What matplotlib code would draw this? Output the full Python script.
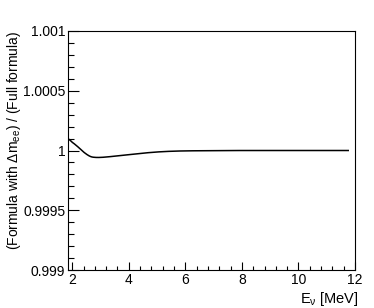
import numpy as np
import matplotlib
matplotlib.use("Agg")
import matplotlib.pyplot as plt
from matplotlib.ticker import MultipleLocator, FixedFormatter, FixedLocator

plt.rcParams['font.family'] = ['Liberation Sans', 'DejaVu Sans']
plt.rcParams['mathtext.fontset'] = 'custom'
plt.rcParams['mathtext.rm'] = 'Liberation Sans'
plt.rcParams['mathtext.it'] = 'Liberation Sans'

# ratio
energy = [1.85, 1.95, 2.05, 2.2, 2.35, 2.5, 2.7, 2.9, 3.2, 3.6, 4.0, 4.5, 5.0, 5.5, 6.0, 7.0, 8.0, 9.0, 10.0, 11.0, 11.76]
ratio = [1.000100, 1.000080, 1.000060, 1.000030, 1.000005, 0.999955, 0.999942, 0.999940, 0.999945, 0.999955,
         0.999965, 0.999978, 0.999988, 0.999994, 0.999997, 0.999999, 1.0, 1.0, 1.0, 1.0, 1.0]

yticks = [0.999, 0.9995, 1.0, 1.0005, 1.001]
ytick_labels = ["0.999", "0.9995", "1", "1.0005", "1.001"]
xticks = [2, 4, 6, 8, 10, 12]

fig = plt.figure(figsize=(3.74, 3.08), dpi=100)
ax = fig.add_axes([68 / 374, 1 - 270 / 308, (355 - 68) / 374, (270 - 31) / 308])

# smooth a bit through the read points
xs = np.linspace(energy[0], energy[-1], 400)
ys = np.interp(xs, energy, ratio)
k = 9
ys_s = np.convolve(np.pad(ys, k, mode='edge'), np.ones(2 * k + 1) / (2 * k + 1), mode='same')[k:-k]
ys_s[:6] = ys[:6]
ax.plot(xs, ys_s, color='black', lw=1.1)

ax.set_xlim(1.85, 12)
ax.set_ylim(0.999, 1.001)
ax.yaxis.set_major_locator(FixedLocator(yticks))
ax.yaxis.set_major_formatter(FixedFormatter(ytick_labels))
ax.yaxis.set_minor_locator(MultipleLocator(0.0001))
ax.xaxis.set_major_locator(FixedLocator(xticks))
ax.xaxis.set_minor_locator(MultipleLocator(0.4))

ax.tick_params(which='both', direction='in', top=False, right=False, labelsize=10, pad=2, width=0.8)
ax.tick_params(axis='y', which='major', length=8)
ax.tick_params(axis='y', which='minor', length=4.5)
ax.tick_params(axis='x', which='major', length=6)
ax.tick_params(axis='x', which='minor', length=3)
for s in ax.spines.values():
    s.set_linewidth(0.8)

ax.set_xlabel(r"E$_{\nu}$ [MeV]", fontsize=10.5, loc='right')
ax.xaxis.set_label_coords(1.012, -0.082)
ax.set_ylabel(r"(Formula with $\Delta$m$_{ee}$) / (Full formula)", fontsize=10, loc='top')
ax.yaxis.set_label_coords(-0.157, 1.0)

fig.savefig("out.png", dpi=100)
